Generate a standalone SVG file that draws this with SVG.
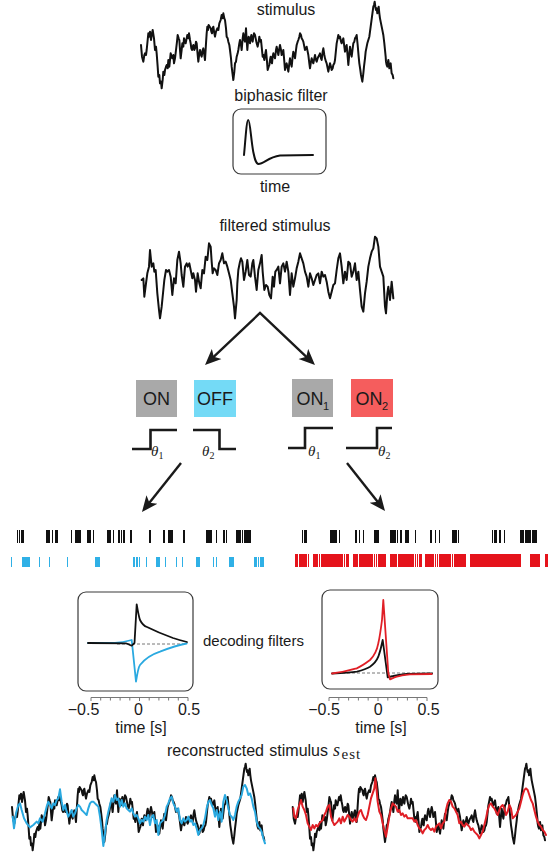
<svg xmlns="http://www.w3.org/2000/svg" xmlns:xlink="http://www.w3.org/1999/xlink" width="552" height="853" viewBox="0 0 552 853">
<style>
text{font-family:"Liberation Sans",Arial,sans-serif;fill:#1a1a1a}
.lbl{font-size:16px}
.cell{font-size:18px;text-anchor:middle}
.sub{font-size:11px}
.math{font-family:"Liberation Serif","DejaVu Serif",serif;font-style:italic;font-size:15px}
.mathsub{font-family:"Liberation Serif","DejaVu Serif",serif;font-size:10px}
.trace{fill:none;stroke-linejoin:round;stroke-linecap:round}
.frame{fill:#fff;stroke:#3a3a3a;stroke-width:1.2}
.step{fill:none;stroke:#1a1a1a;stroke-width:2.6}
.conn{fill:none;stroke:#1a1a1a;stroke-width:2.4}
.ax{fill:none;stroke:#777;stroke-width:1}
.tick{font-size:16px;text-anchor:middle}
.spk{fill:none;stroke-width:1.1;shape-rendering:crispEdges}
.spkr{fill:none;stroke-width:1.4;shape-rendering:crispEdges}
</style>
<defs>
<marker id="head" viewBox="0 -8 16 16" refX="6" refY="0" markerWidth="16" markerHeight="16" markerUnits="userSpaceOnUse" orient="auto-start-reverse">
<path d="M16,0 L0,-7 L4,0 L0,7 Z" fill="#1a1a1a"/>
</marker>
<path id="stim" d="M33,135 L36,170 40,185 43,165 45,160 48,165 50,150 53,120 55,100 58,110 60,95 63,120 66,100 68,90 72,115 75,150 78,140 80,160 83,200 85,230 88,225 90,250 93,245 95,265 98,240 100,215 103,225 105,210 108,200 110,195 113,205 115,180 118,200 122,160 125,170 127,175 130,165 132,190 135,175 138,150 141,125 143,105 146,115 148,120 150,150 152,175 155,150 157,130 160,140 162,115 165,125 167,130 170,115 172,105 175,115 177,100 180,120 182,130 184,145 186,150 188,140 190,135 193,150 195,145 198,125 200,130 203,165 205,185 208,160 210,150 213,165 215,170 218,150 220,145 223,165 225,180 228,130 230,100 232,80 234,90 236,75 239,80 242,85 244,95 246,100 248,85 250,80 253,100 255,110 258,95 262,85 265,90 268,70 272,60 275,45 278,55 280,40 283,55 285,60 288,85 290,110 293,115 295,125 298,135 300,150 303,175 305,200 308,225 310,240 313,215 315,190 318,185 320,170 323,160 325,150 328,130 330,120 333,135 335,150 338,115 340,100 343,120 345,125 348,85 350,120 352,150 354,125 356,110 358,120 360,130 362,115 364,105 366,120 368,125 370,110 372,100 375,105 377,115 380,130 383,140 386,125 388,110 391,125 393,120 396,150 398,170 400,165 403,180 406,160 408,150 411,185 413,210 416,200 418,195 420,180 422,170 424,185 426,190 428,170 430,160 433,170 435,175 438,150 440,140 443,155 445,165 448,145 450,135 453,150 455,165 458,160 460,150 463,185 465,210 468,195 470,190 473,205 475,215 478,190 480,175 483,190 485,200 488,170 490,155 493,165 495,175 498,150 500,135 503,125 505,120 508,110 510,100 513,105 515,115 518,120 520,125 523,140 525,150 528,145 530,140 533,155 535,165 538,190 540,205 543,185 545,175 548,185 550,190 553,175 555,165 558,180 560,185 563,175 565,170 568,165 570,160 573,175 575,180 578,155 580,145 583,165 585,175 588,185 590,190 593,205 595,215 598,200 600,190 603,200 605,210 608,205 610,195 613,190 615,180 618,150 620,130 623,115 625,105 628,115 630,110 633,125 635,130 638,120 640,115 643,140 645,155 648,140 650,135 653,170 655,195 658,160 660,140 663,160 665,170 668,145 670,130 673,125 675,115 678,110 680,105 683,135 686,170 688,190 691,210 693,225 695,235 697,245 700,220 702,200 705,175 707,155 710,140 712,130 715,120 718,110 720,95 722,80 724,65 726,50 728,35 730,20 732,15 734,5 736,20 738,30 740,25 742,40 744,30 746,20 748,40 750,55 753,70 755,80 758,95 760,105 763,130 765,150 767,170 768,185 770,195 772,200 774,185 775,180 777,195 778,205 780,195 782,190 784,210 785,220 788,225 790,235"/>
</defs>

<g id="stimulus">
<text class="lbl" x="286" y="15" text-anchor="middle">stimulus</text>
<use xlink:href="#stim" href="#stim" class="trace" stroke="#111" stroke-width="6" transform="translate(130,0) scale(0.33333)"/>
</g>

<g id="biphasic-filter">
<text class="lbl" x="281" y="101" text-anchor="middle">biphasic filter</text>
<rect class="frame" x="233" y="109" width="93" height="65" rx="8"/>
<path class="trace" stroke="#111" stroke-width="2" d="M244,155 C245.5,140 246.5,120 248.3,120 C250,120 251,140 253.3,152 C255,160 256,164 258.5,164 C264,164 268,157 280,155.5 L313,155"/>
<text class="lbl" x="275" y="192" text-anchor="middle">time</text>
</g>

<g id="filtered-stimulus">
<text class="lbl" x="275" y="231" text-anchor="middle">filtered stimulus</text>
<path class="trace" stroke="#111" stroke-width="6" transform="translate(130,200) scale(0.33333)" d="M35,240 L40,235 43,290 48,250 52,220 57,200 60,150 65,200 70,190 73,215 77,210 82,280 87,330 90,355 95,320 100,270 103,240 108,210 112,215 117,210 122,230 127,285 132,235 137,250 142,180 147,155 152,190 155,225 160,260 165,200 170,190 173,200 178,190 182,210 187,235 190,220 195,240 198,275 203,220 208,250 212,265 217,210 222,220 227,170 232,180 237,130 242,140 245,185 248,220 252,205 257,210 262,225 267,190 272,180 277,160 282,190 287,185 292,200 297,220 302,240 307,280 312,320 315,355 320,300 322,250 325,210 330,185 333,175 337,185 342,240 347,215 352,180 357,225 362,230 367,190 370,180 375,230 380,270 385,210 390,190 395,165 398,215 403,270 408,255 413,260 418,285 423,295 428,230 432,260 436,215 440,210 445,200 450,250 455,200 460,190 465,215 470,185 475,215 480,285 485,220 490,260 495,235 500,205 505,185 510,160 515,175 520,190 525,215 530,230 535,260 540,220 545,235 550,255 555,240 560,225 565,220 570,250 575,215 580,230 585,225 590,245 595,275 600,295 605,275 610,255 615,250 620,210 625,175 630,160 635,200 640,250 645,215 650,240 655,185 660,190 665,230 670,215 675,190 680,240 685,215 690,270 695,320 700,335 705,280 710,245 715,200 720,175 725,155 730,145 735,110 740,115 745,140 750,200 755,215 760,230 765,320 768,340 772,280 775,260 780,300 785,245 790,295"/>
</g>

<g id="connectors">
<path class="conn" d="M212.3,358.1 L260,313 L307.7,358.1" marker-start="url(#head)" marker-end="url(#head)"/>
<path class="conn" d="M181,463 L148.2,504.2" marker-end="url(#head)"/>
<path class="conn" d="M347,463 L378.8,503.2" marker-end="url(#head)"/>
</g>

<g id="cell-ON">
<rect x="136" y="380" width="41" height="37" fill="#a9a9a9"/>
<text class="cell" x="156.5" y="405">ON</text>
<path class="step" d="M132,449 H150.5 V430 H177"/>
<text class="math" x="151" y="456">θ</text><text class="mathsub" x="158.5" y="459">1</text>
</g>
<g id="cell-OFF">
<rect x="194" y="380" width="42" height="37" fill="#74daf6"/>
<text class="cell" x="215" y="405">OFF</text>
<path class="step" d="M193,430 H219.5 V449 H236"/>
<text class="math" x="202" y="456">θ</text><text class="mathsub" x="209.5" y="459">2</text>
</g>
<g id="cell-ON1">
<rect x="292" y="379" width="41" height="38" fill="#a9a9a9"/>
<text class="cell" x="310" y="405">ON</text><text class="sub" x="323" y="410">1</text>
<path class="step" d="M288,448 H305 V428 H333"/>
<text class="math" x="308" y="456">θ</text><text class="mathsub" x="315.5" y="459">1</text>
</g>
<g id="cell-ON2">
<rect x="351" y="379" width="42" height="38" fill="#f55d5d"/>
<text class="cell" x="369" y="405">ON</text><text class="sub" x="382" y="410">2</text>
<path class="step" d="M346,448 H377 V428 H392"/>
<text class="math" x="378" y="456">θ</text><text class="mathsub" x="385.5" y="459">2</text>
</g>

<g id="spikes-left">
<path class="spk" stroke="#111" d="M17.5,530v13M19.5,530v13M21.5,530v13M23,530v13M47,530v13M48.3,530v13M49.6,530v13M52.3,530v13M55.5,530v13M57,530v13M71.7,530v13M76,530v13M77.3,530v13M78.6,530v13M80,530v13M88,530v13M90,530v13M93.3,530v13M107.7,530v13M109,530v13M110.5,530v13M113.3,530v13M118.3,530v13M119.6,530v13M121.2,530v13M124,530v13M131,530v13M150,530v13M164,530v13M168.3,530v13M169.6,530v13M171,530v13M172.5,530v13M184,530v13M206.7,530v13M208,530v13M209.4,530v13M211,530v13M216.7,530v13M224,530v13M226.5,530v13M236.7,530v13M238,530v13M239.4,530v13M240.8,530v13M242.2,530v13M244.5,530v13M246,530v13M248,530v13M250,530v13"/>
<path class="spk" stroke="#2fb0e6" d="M11.7,557v10M22.7,557v10M24,557v10M25.3,557v10M26.6,557v10M28,557v10M29.5,557v10M39.3,557v10M49.3,557v10M67.7,557v10M95.7,557v10M97,557v10M98.4,557v10M99.8,557v10M133.3,557v10M134.7,557v10M136.2,557v10M137.6,557v10M139.2,557v10M146.7,557v10M156.7,557v10M158,557v10M159.3,557v10M165.7,557v10M176.7,557v10M182.3,557v10M196.7,557v10M198,557v10M199.3,557v10M213.3,557v10M216.7,557v10M229.3,557v10M230.7,557v10M232,557v10M233.3,557v10M255,557v10M256.5,557v10M258.5,557v10M260.3,557v10M262,557v10M263.3,557v10"/>
</g>

<g id="spikes-right">
<path class="spk" stroke="#111" d="M302.7,530v13M304.3,530v13M306,530v13M331,530v13M332.3,530v13M333.6,530v13M335,530v13M336.7,530v13M339.3,530v13M356,530v13M359.3,530v13M363.3,530v13M374.3,530v13M375.6,530v13M377,530v13M378.3,530v13M391,530v13M392.3,530v13M393.6,530v13M395,530v13M397.7,530v13M401,530v13M406,530v13M407.3,530v13M408.7,530v13M415.3,530v13M431,530v13M435.3,530v13M439.3,530v13M452.7,530v13M454,530v13M455.4,530v13M456.9,530v13M458.3,530v13M492.7,530v13M494.2,530v13M496,530v13M500,530v13M504.3,530v13M521,530v13M522.4,530v13M523.8,530v13M525.2,530v13M526.6,530v13M528,530v13M529.4,530v13M530.8,530v13M532.3,530v13M534,530v13M536,530v13"/>
<path class="spkr" stroke="#e5131b" d="M296,554v13M297.5,554v13M299.5,554v13M301,554v13M303,554v13M305,554v13M306.5,554v13M308.5,554v13M314,554v13M316,554v13M317.5,554v13M319.5,554v13M321.5,554v13M323,554v13M325,554v13M326.5,554v13M328,554v13M330,554v13M332,554v13M333.5,554v13M335,554v13M337,554v13M339,554v13M341,554v13M342.5,554v13M344.5,554v13M346.5,554v13M348,554v13M354,554v13M356,554v13M357.5,554v13M359.5,554v13M361,554v13M363,554v13M365,554v13M367,554v13M369,554v13M371,554v13M372.5,554v13M374.5,554v13M376.5,554v13M378.5,554v13M380,554v13M382,554v13M384,554v13M385.5,554v13M391,554v13M393,554v13M395,554v13M396.5,554v13M398.5,554v13M400,554v13M402,554v13M404,554v13M406,554v13M408,554v13M410,554v13M412,554v13M413.5,554v13M415.5,554v13M417.5,554v13M419.5,554v13M421,554v13M426,554v13M428,554v13M430,554v13M432,554v13M433.5,554v13M435.5,554v13M437.5,554v13M439.5,554v13M441,554v13M443,554v13M445,554v13M447,554v13M449,554v13M450.5,554v13M452.5,554v13M454.5,554v13M456,554v13M458,554v13M460,554v13M462,554v13M464,554v13M465.5,554v13M471,554v13M473,554v13M475,554v13M477,554v13M479,554v13M481,554v13M483,554v13M485,554v13M487,554v13M489,554v13M491,554v13M493,554v13M495,554v13M497,554v13M499,554v13M501,554v13M503,554v13M505,554v13M507,554v13M509,554v13M511,554v13M513,554v13M515,554v13M517,554v13M519,554v13M520.5,554v13M531,554v13M533,554v13M535,554v13M537,554v13M539,554v13M546,554v13M547.5,554v13"/>
</g>

<g id="decoding-left">
<rect class="frame" x="78" y="592" width="115" height="99" rx="8"/>
<path fill="none" stroke="#777" stroke-width="1" stroke-dasharray="3,2" d="M117,644 H187"/>
<path class="trace" stroke="#2aa9e0" stroke-width="1.8" d="M88,643 L115,643 C122,642.5 128,641 131.7,640 L136,681.7 C137.5,672 138.5,667 140,665 C144,660 150,655 160,651.7 C168,648.5 178,645 186.7,643.5"/>
<path class="trace" stroke="#111" stroke-width="1.8" d="M88,643 L126,643.3 C129,644 130.5,645.5 131.7,645.7 L134.5,643 L136.7,604.3 C138,612 139,617 140,620 C142,624 144,626 147,627 C153,630 162,634 173,638 C179,640 183,641 187,642"/>
<text class="lbl" x="203" y="646" style="font-size:15px">decoding filters</text>
<path class="ax" d="M91,697.5 H188 M91,697.5v3.5M100.7,697.5v3M110.4,697.5v3M120.1,697.5v3M129.8,697.5v3M139.5,697.5v3.5M149.2,697.5v3M158.9,697.5v3M168.6,697.5v3M178.3,697.5v3M188,697.5v3.5"/>
<text class="tick" x="83.5" y="715">−0.5</text>
<text class="tick" x="138.5" y="715">0</text>
<text class="tick" x="189" y="715">0.5</text>
<text class="lbl" x="141" y="733" text-anchor="middle">time [s]</text>
</g>

<g id="decoding-right">
<rect class="frame" x="322" y="590" width="116" height="99" rx="8"/>
<path fill="none" stroke="#777" stroke-width="1" stroke-dasharray="3,2" d="M337,673 H433"/>
<path class="trace" stroke="#111" stroke-width="1.8" d="M332,673.5 C345,673 352,672.5 357,671.7 C363,670 367,668.5 370,666.7 C374,664 377,660 378.3,656.7 C380,652 381.5,646 382.7,640 L387.7,677.3 C389.5,676.8 391,676.3 393.3,676 C398,675 402,674.3 406.7,674 L432,673.5"/>
<path class="trace" stroke="#e01f26" stroke-width="1.8" d="M332,673.5 C345,672 351,670 356.7,668.3 C362,666 366,663 370,660 C374,656 377,650 378.3,643.3 C380,636 381,628 382,620 L383.3,600 L388.3,673 L390,679.3 C392,678.5 394,677.5 396.7,676.7 C400,675.5 405,674.8 410,674.3 L431.7,674"/>
<path class="ax" d="M329,697.5 H427 M329,697.5v3.5M338.8,697.5v3M348.6,697.5v3M358.4,697.5v3M368.2,697.5v3M378,697.5v3.5M387.8,697.5v3M397.6,697.5v3M407.4,697.5v3M417.2,697.5v3M427,697.5v3.5"/>
<text class="tick" x="324" y="715">−0.5</text>
<text class="tick" x="378.3" y="715">0</text>
<text class="tick" x="428.5" y="715">0.5</text>
<text class="lbl" x="381" y="733" text-anchor="middle">time [s]</text>
</g>

<g id="reconstruction">
<text class="lbl" x="167" y="756">reconstructed</text>
<text class="lbl" x="328" y="756" text-anchor="end">stimulus</text>
<text class="math" x="333" y="756" style="font-size:18px">s</text><text class="mathsub" x="341.5" y="759" style="font-size:15px;letter-spacing:1px">est</text>
<use xlink:href="#stim" href="#stim" class="trace" stroke="#111" stroke-width="6" transform="translate(1,762) scale(0.33333)"/>
<path class="trace" stroke="#2aa9e0" stroke-width="6" transform="translate(0,740) scale(0.33333)" d="M38,230 L42,265 48,220 55,195 60,190 65,210 72,235 80,250 90,262 100,255 110,245 115,250 120,235 128,245 135,220 140,200 145,185 150,195 155,205 160,190 165,195 170,180 175,175 180,148 185,185 190,210 195,195 200,215 205,230 210,220 215,210 220,230 225,220 230,205 235,195 240,200 245,210 250,215 255,220 260,225 265,205 270,190 275,185 280,185 285,190 290,195 295,200 300,230 305,270 310,318 315,280 320,240 325,215 330,195 335,175 340,185 345,165 350,180 355,175 360,200 365,180 370,200 375,190 380,205 385,210 390,215 395,205 400,220 405,230 410,225 415,235 420,250 425,240 430,245 435,230 440,240 445,225 450,255 455,230 460,225 465,250 470,240 475,285 480,250 485,245 490,240 495,225 500,200 505,190 510,175 515,170 520,190 525,200 530,215 535,205 540,240 545,250 550,235 555,245 560,240 565,230 570,245 575,240 580,255 585,250 590,265 595,285 600,270 605,265 610,255 615,235 620,205 625,185 630,180 635,195 640,205 645,230 650,210 655,240 660,215 665,245 670,185 675,165 680,180 685,205 690,225 695,230 700,240 705,225 710,200 715,185 720,175 725,165 730,140 735,135 740,145 745,165 750,160 755,175 760,200 765,215 770,245 775,260 780,265 785,275 790,295 795,310"/>
<use xlink:href="#stim" href="#stim" class="trace" stroke="#111" stroke-width="6" transform="translate(281.7,762) scale(0.33333)"/>
<path class="trace" stroke="#e01f26" stroke-width="6" transform="translate(276,740) scale(0.33333)" d="M52,205 L55,230 60,235 65,210 70,195 75,180 80,200 85,210 90,225 95,250 100,260 105,270 110,255 115,265 120,255 125,260 130,250 135,245 140,240 145,225 150,215 155,200 160,195 165,230 170,245 175,255 180,250 185,245 190,235 195,250 200,230 205,245 210,235 215,225 220,230 225,240 230,245 235,235 240,245 245,230 250,215 255,210 260,225 265,235 270,240 275,225 280,200 285,175 290,160 295,145 298,115 300,130 305,185 310,215 315,225 320,250 325,270 330,290 335,260 340,230 345,205 350,190 355,195 360,200 365,215 370,210 375,225 380,220 385,230 390,225 395,235 400,235 405,235 410,235 415,245 420,240 425,255 430,265 435,270 440,280 445,270 450,265 455,255 460,265 465,270 470,265 475,275 480,260 485,255 490,250 495,265 500,250 505,245 510,210 515,190 520,180 525,185 530,200 535,205 540,215 545,225 550,250 555,245 560,255 565,260 570,250 575,255 580,260 585,270 590,265 595,275 600,280 605,285 610,295 615,285 620,275 625,255 630,235 635,210 640,195 645,190 650,200 655,205 660,215 665,225 670,210 675,200 680,195 685,205 690,225 695,215 700,195 705,205 710,235 715,230 720,225 725,215 730,205 735,185 740,165 745,150 750,145 755,150 760,165 765,180 770,190 775,210 780,230 785,245 790,255 795,260 800,270 805,275 810,285"/>
</g>
</svg>
